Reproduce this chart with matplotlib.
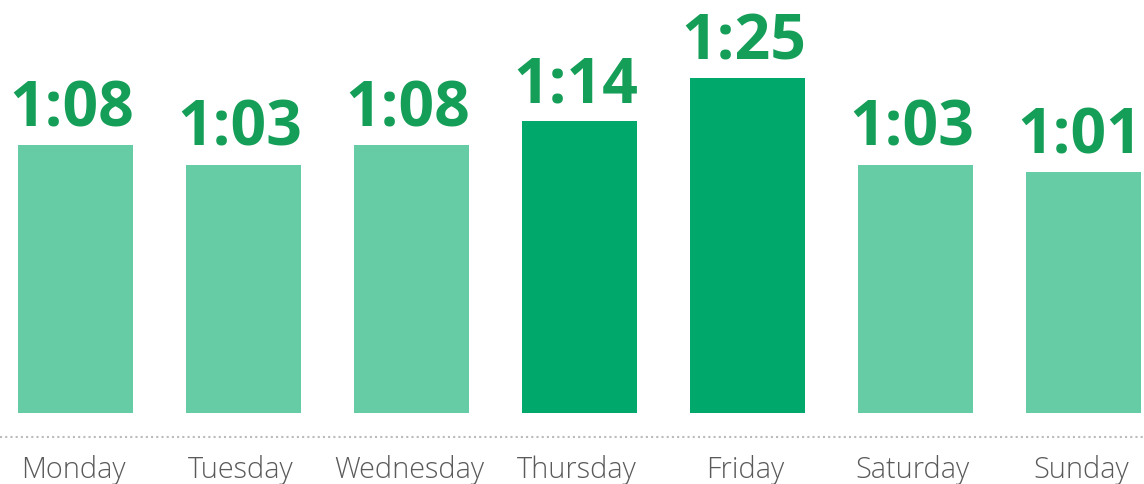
import matplotlib.pyplot as plt

days = ['Monday', 'Tuesday', 'Wednesday', 'Thursday', 'Friday', 'Saturday', 'Sunday']
seconds = [68, 63, 68, 74, 85, 63, 61]
highlight = [False, False, False, True, True, False, False]

LIGHT = '#66cca6'
DARK = '#00a86b'
TEXT_GREEN = '#149e57'

fig = plt.figure(figsize=(11.44, 4.85), dpi=100)
ax = fig.add_axes([0, 0, 1, 1])

x = list(range(len(days)))
colors = [DARK if h else LIGHT for h in highlight]
ax.bar(x, seconds, width=0.685, color=colors)

for i, s in enumerate(seconds):
    label = f'{s // 60}:{s % 60:02d}'
    ax.text(i - 0.025, s + 5, label, ha='center', va='baseline', fontsize=45,
            fontweight='bold', color=TEXT_GREEN, family='Open Sans')
    ax.text(i - 0.015, -16.3, days[i], ha='center', va='baseline', fontsize=20.8,
            fontweight='light', color='#5a5a5a', family='Open Sans')

ax.axhline(-6.1, color='#bbbbbb', linestyle=(0, (1, 1.5)), linewidth=1.5)

ax.set_xlim(-0.4494, 6.3601)
ax.set_ylim(-18.0, 105.0)
ax.axis('off')

fig.savefig('out.png', dpi=100)
